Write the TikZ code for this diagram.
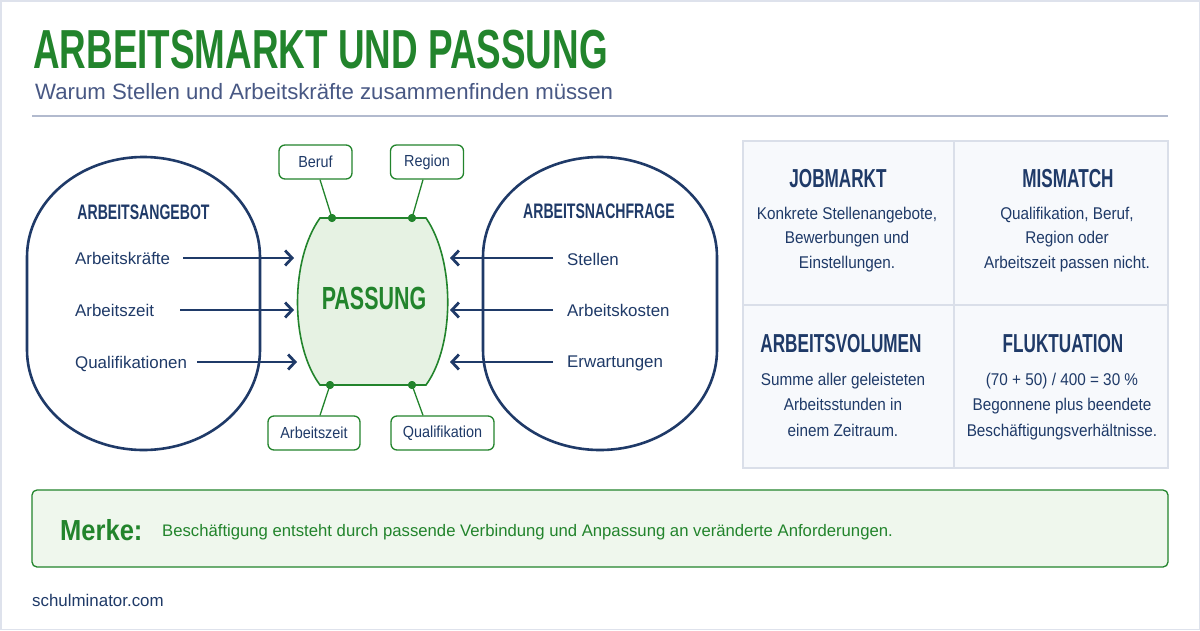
\documentclass[tikz,border=0pt]{standalone}
\usepackage{fontspec}
\setmainfont{Liberation Sans}
\newfontfamily\bodyfont[FakeStretch=0.9]{Liberation Sans}
\newfontfamily\headfont[FakeStretch=0.67]{Liberation Sans}
\newfontfamily\titlefont[FakeStretch=0.66]{Liberation Sans}
\newfontfamily\merkefont[FakeStretch=0.88]{Liberation Sans}
\usetikzlibrary{arrows.meta}
\definecolor{tgreen}{RGB}{34,132,44}
\definecolor{navy}{RGB}{31,58,104}
\definecolor{slate}{RGB}{72,88,132}
\definecolor{rule}{RGB}{178,186,206}
\definecolor{pfill}{RGB}{230,242,227}
\definecolor{mfill}{RGB}{239,247,237}
\definecolor{gfill}{RGB}{247,249,252}
\definecolor{gline}{RGB}{218,223,233}
\definecolor{frame}{RGB}{222,226,236}
\tikzset{
  oval/.style={draw=navy,line width=2.6pt},
  flow/.style={draw=navy,line width=2.8pt,-{Straight Barb[length=7pt,width=15pt,line width=2.8pt]}},
  item/.style={inner sep=0pt,anchor=base west,text=navy,font=\rmfamily\fontsize{16.9}{20}\selectfont},
  heading/.style={inner sep=0pt,anchor=base,text=navy,font=\headfont\bfseries\fontsize{21}{24}\selectfont},
  tag/.style={draw=tgreen,line width=1.3pt,rounded corners=6pt,fill=white,text=navy,inner sep=0pt,font=\bodyfont\fontsize{16}{18}\selectfont},
  link/.style={draw=tgreen,line width=1.3pt},
  dot/.style={circle,fill=tgreen,inner sep=0pt,minimum size=8pt},
  celltitle/.style={inner sep=0pt,anchor=base,text=navy,font=\titlefont\bfseries\fontsize{26}{28}\selectfont},
  cellbody/.style={inner sep=0pt,anchor=base,text=navy,align=center,font=\bodyfont\fontsize{17}{24.5}\selectfont},
}
\begin{document}
\begin{tikzpicture}[x=1pt,y=-1pt]
\useasboundingbox (0,0) rectangle (1200,630);
\fill[white] (0,0) rectangle (1200,630);
\draw[frame,line width=1.5pt] (0.75,0.75) rectangle (1199.25,629.25);

% header
\node[inner sep=0pt,anchor=base west,text=tgreen,font=\headfont\bfseries\fontsize{55}{58}\selectfont] (title) at (33,68) {ARBEITSMARKT UND PASSUNG};
\node[inner sep=0pt,anchor=base west,text=slate,font=\rmfamily\fontsize{22.2}{25}\selectfont] (sub) at (35,99) {Warum Stellen und Arbeitskräfte zusammenfinden müssen};
\draw[rule,line width=2pt] (32,116) -- (1168,116);

% left oval
\draw[oval] (27,257) arc[start angle=180,end angle=360,x radius=116.5,y radius=100] -- (260,350) arc[start angle=0,end angle=180,x radius=116.5,y radius=100] -- cycle;
\node[heading] (angebot) at (143.5,219) {ARBEITSANGEBOT};
\node[item] (l1) at (75,264) {Arbeitskräfte};
\node[item] (l2) at (75,316) {Arbeitszeit};
\node[item] (l3) at (75,368) {Qualifikationen};

% right oval
\draw[oval] (483,257) arc[start angle=180,end angle=360,x radius=117,y radius=100] -- (717,350) arc[start angle=0,end angle=180,x radius=117,y radius=100] -- cycle;
\node[heading] (nachfrage) at (599,218) {ARBEITSNACHFRAGE};
\node[item] (r1) at (567,265) {Stellen};
\node[item] (r2) at (567,316) {Arbeitskosten};
\node[item] (r3) at (567,367) {Erwartungen};

% passung
\draw[draw=tgreen,fill=pfill,line width=1.6pt] (320,218) -- (426,218) .. controls (455,260) and (455,345) .. (426,385) -- (320,385) .. controls (290,345) and (290,260) .. (320,218) -- cycle;
\node[inner sep=0pt,anchor=base,text=tgreen,font=\headfont\bfseries\fontsize{32}{34}\selectfont] (passung) at (374,309) {PASSUNG};

\coordinate (pl1) at (294,258);
\coordinate (pl2) at (294,310);
\coordinate (pl3) at (297,362);
\coordinate (pr1) at (450,258);
\coordinate (pr2) at (450,310);
\coordinate (pr3) at (450,362);
\coordinate (sl1) at (183,258);
\coordinate (sl2) at (180,310);
\coordinate (sl3) at (197,362);
\coordinate (sr1) at (553,258);
\coordinate (sr2) at (553,310);
\coordinate (sr3) at (553,362);
\draw[flow] (sl1) -- (pl1);
\draw[flow] (sl2) -- (pl2);
\draw[flow] (sl3) -- (pl3);
\draw[flow] (sr1) -- (pr1);
\draw[flow] (sr2) -- (pr2);
\draw[flow] (sr3) -- (pr3);

% tags
\node[tag,minimum width=73pt,minimum height=34pt] (beruf) at (315.5,162) {Beruf};
\node[tag,minimum width=73pt,minimum height=34pt] (region) at (427,162) {Region};
\node[tag,minimum width=92pt,minimum height=34pt] (azeit) at (314,433) {Arbeitszeit};
\node[tag,minimum width=103pt,minimum height=34pt] (quali) at (442.5,433) {Qualifikation};
\node[dot] (d1) at (332,218) {};
\node[dot] (d2) at (412,218) {};
\node[dot] (d3) at (330,385) {};
\node[dot] (d4) at (412,385) {};
\draw[link] (beruf.south -| 320,0) -- (d1.center);
\draw[link] (region.south -| 423,0) -- (d2.center);
\draw[link] (d3.center) -- (azeit.north -| 320,0);
\draw[link] (d4.center) -- (quali.north -| 423,0);
\node[dot] at (d1) {};
\node[dot] at (d2) {};
\node[dot] at (d3) {};
\node[dot] at (d4) {};

% grid
\draw[gline,fill=gfill,line width=1.3pt] (743,141) rectangle (1168,468);
\draw[gline,line width=1.3pt] (954,141) -- (954,468);
\draw[gline,line width=1.3pt] (743,305) -- (1168,305);
\node[celltitle] (job) at (838,187) {JOBMARKT};
\node[cellbody] (jobt) at (847,268) {Konkrete Stellenangebote,\\Bewerbungen und\\Einstellungen.};
\node[celltitle] (mis) at (1068,187) {MISMATCH};
\node[cellbody] (mist) at (1067,268) {Qualifikation, Beruf,\\Region oder\\Arbeitszeit passen nicht.};
\node[celltitle] (vol) at (841,352) {ARBEITSVOLUMEN};
\node[cellbody,font=\bodyfont\fontsize{17}{25.5}\selectfont] (volt) at (843,436) {Summe aller geleisteten\\Arbeitsstunden in\\einem Zeitraum.};
\node[celltitle] (flu) at (1063,352) {FLUKTUATION};
\node[cellbody,font=\bodyfont\fontsize{17}{25.5}\selectfont] (flut) at (1062,436) {(70 + 50) / 400 = 30 \%\\Begonnene plus beendete\\Beschäftigungsverhältnisse.};

% merke
\draw[draw=tgreen,fill=mfill,line width=1.3pt,rounded corners=5pt] (32,490) rectangle (1168,567);
\node[inner sep=0pt,anchor=base west,text=tgreen,font=\merkefont\bfseries\fontsize{29}{32}\selectfont] (merke) at (60,540) {Merke:};
\node[inner sep=0pt,anchor=base west,text=tgreen,font=\rmfamily\fontsize{16.7}{19}\selectfont] (merket) at (162,536) {Beschäftigung entsteht durch passende Verbindung und Anpassung an veränderte Anforderungen.};

\node[inner sep=0pt,anchor=base west,text=navy,font=\rmfamily\fontsize{16.9}{20}\selectfont] (foot) at (32,606) {schulminator.com};
\end{tikzpicture}
\end{document}
